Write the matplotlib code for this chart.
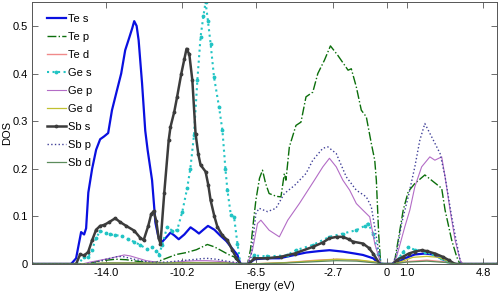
# Partial density of states for Te, Ge and Sb orbitals.

import matplotlib
matplotlib.use('Agg')
import matplotlib.pyplot as plt
from matplotlib import rcParams

rcParams['font.family'] = ['Liberation Sans Narrow', 'Liberation Sans', 'DejaVu Sans']
rcParams['font.size'] = 8

# energies (eV) and DOS values
te_s_e = [-17.7, -15.75, -15.5, -15.25, -15.1, -15.0, -14.89, -14.7, -14.5, -14.3, -14.1, -13.9,
          -13.71, -13.46, -13.25, -13.05, -12.85, -12.7, -12.6, -12.48, -12.38, -12.21, -12.05,
          -11.93, -11.71, -11.54, -11.4, -11.24, -11.0, -10.79, -10.6, -10.38, -10.1, -9.79,
          -9.55, -9.37, -9.15, -8.92, -8.6, -8.29, -8.0, -7.78, -7.45, -7.3, -6.9, -6.6, -6.0,
          -5.36, -4.7, -4.03, -3.4, -2.86, -2.19, -1.6, -1.19, -0.68, -0.35, 0.3, 0.6, 0.9,
          1.4, 1.9, 2.3, 2.7, 3.0, 3.4, 5.5]
te_s = [0, 0, 0.012, 0.067, 0.062, 0.075, 0.15, 0.2, 0.24, 0.262, 0.268, 0.275,
        0.323, 0.365, 0.4, 0.449, 0.475, 0.495, 0.51, 0.5, 0.47, 0.38, 0.28,
        0.239, 0.176, 0.086, 0.058, 0.045, 0.056, 0.066, 0.06, 0.052, 0.062, 0.077,
        0.07, 0.064, 0.072, 0.080, 0.072, 0.059, 0.048, 0.036, 0.019, 0, 0, 0.01, 0.012,
        0.012, 0.018, 0.024, 0.027, 0.029, 0.026, 0.022, 0.019, 0.012, 0, 0, 0.005, 0.012,
        0.02, 0.022, 0.02, 0.012, 0.005, 0, 0]

te_p_e = [-17.7, -15.0, -14.5, -14.0, -13.5, -13.0, -12.5, -12.0, -11.5, -11.0, -10.5, -10.0,
          -9.5, -8.95, -8.6, -8.29, -7.9, -7.62, -7.3, -6.95, -6.8, -6.65, -6.53, -6.35, -6.2,
          -6.05, -5.87, -5.5, -5.28, -5.11, -5.03, -4.86, -4.53, -4.28, -4.03, -3.69, -3.44,
          -3.11, -2.81, -2.44, -1.93, -1.77, -1.52, -1.27, -1.02, -0.77, -0.6, -0.52, -0.4,
          -0.3, 0.3, 0.4, 0.57, 0.82, 1.07, 1.4, 1.9, 2.32, 2.74, 2.91, 3.24, 3.49, 3.65, 5.5]
te_p = [0, 0, 0.005, 0.008, 0.01, 0.009, 0.006, 0.004, 0.004, 0.012, 0.02, 0.024,
        0.03, 0.041, 0.036, 0.029, 0.02, 0.015, 0, 0, 0.03, 0.09, 0.134, 0.18, 0.197,
        0.17, 0.148, 0.142, 0.141, 0.19, 0.176, 0.246, 0.291, 0.298, 0.351, 0.361, 0.40,
        0.428, 0.458, 0.438, 0.407, 0.41, 0.372, 0.323, 0.309, 0.253, 0.218, 0.176, 0.06,
        0, 0, 0.008, 0.05, 0.113, 0.152, 0.169, 0.187, 0.173, 0.159, 0.113, 0.05, 0.015, 0, 0]

te_d_e = [-17.7, -15.0, -14.0, -12.0, -10.0, -8.0, -7.3, -6.9, -5.0, -3.5, -2.5, -1.5, -0.5,
          -0.3, 0.3, 1.0, 2.0, 3.0, 3.5, 5.5]
te_d = [0, 0, 0.002, 0.002, 0.003, 0.003, 0, 0, 0.003, 0.008, 0.01, 0.008, 0.003,
        0, 0, 0.005, 0.008, 0.004, 0, 0]

ge_s_e = [-17.7, -15.4, -15.1, -14.9, -14.7, -14.5, -14.3, -14.0, -13.8, -13.55, -13.2, -12.9,
          -12.63, -12.3, -11.96, -11.7, -11.5, -11.38, -11.2, -10.96, -10.7, -10.46, -10.2,
          -9.96, -9.8, -9.62, -9.45, -9.29, -9.15, -9.04, -8.92, -8.79, -8.62, -8.37, -8.2,
          -8.05, -7.95, -7.78, -7.62, -7.45, -7.3, -6.9, -6.6, -6.0, -5.0, -4.53, -3.69,
          -2.86, -2.19, -1.52, -1.1, -0.93, -0.68, -0.43, -0.25, 0.3, 0.6, 0.8, 1.07, 1.4,
          1.9, 2.3, 2.7, 3.0, 3.3, 5.5]
ge_s = [0, 0, 0.015, 0.015, 0.03, 0.055, 0.069, 0.065, 0.062, 0.061, 0.058, 0.052,
        0.047, 0.04, 0.031, 0.035, 0.028, 0.019, 0.04, 0.078, 0.07, 0.071, 0.11,
        0.159, 0.2, 0.27, 0.386, 0.477, 0.52, 0.55, 0.51, 0.463, 0.393, 0.33, 0.281,
        0.2, 0.155, 0.103, 0.099, 0.043, 0, 0, 0.018, 0.016, 0.018, 0.029, 0.04,
        0.057, 0.064, 0.071, 0.08, 0.085, 0.064, 0.022, 0, 0, 0.012, 0.025, 0.035, 0.03,
        0.026, 0.02, 0.012, 0.006, 0, 0]

ge_p_e = [-17.7, -15.2, -14.8, -14.3, -13.8, -13.3, -13.1, -12.8, -12.4, -12.0, -11.5, -11.0,
          -10.5, -10.0, -9.5, -9.0, -8.5, -8.0, -7.5, -7.3, -6.95, -6.7, -6.45, -6.28, -5.87,
          -5.36, -4.94, -4.36, -3.61, -3.19, -2.86, -2.52, -2.19, -1.85, -1.52, -1.19, -0.85,
          -0.6, -0.3, 0.3, 0.49, 0.9, 1.15, 1.4, 1.74, 2.15, 2.4, 2.74, 2.91, 3.16, 3.41,
          3.66, 3.8, 5.5]
ge_p = [0, 0, 0.004, 0.008, 0.012, 0.017, 0.019, 0.017, 0.012, 0.007, 0.004, 0.003,
        0.004, 0.006, 0.007, 0.007, 0.006, 0.004, 0.002, 0, 0, 0.029, 0.085, 0.092, 0.071,
        0.057, 0.092, 0.127, 0.176, 0.204, 0.222, 0.204, 0.176, 0.155, 0.127, 0.113, 0.099,
        0.043, 0, 0, 0.015, 0.078, 0.113, 0.162, 0.204, 0.225, 0.218, 0.225, 0.183, 0.113,
        0.05, 0.008, 0, 0]

ge_d_e = [-17.7, -15.0, -14.0, -12.0, -10.0, -8.0, -7.3, -6.9, -5.0, -3.5, -2.5, -1.5, -0.5,
          -0.3, 0.3, 0.8, 1.3, 2.0, 2.6, 3.1, 3.5, 5.5]
ge_d = [0, 0, 0.002, 0.002, 0.003, 0.002, 0, 0, 0.003, 0.007, 0.01, 0.009, 0.004,
        0, 0, 0.006, 0.014, 0.016, 0.014, 0.005, 0, 0]

sb_s_e = [-17.7, -15.5, -15.3, -15.1, -14.9, -14.7, -14.5, -14.3, -14.1, -13.85, -13.55, -13.3,
          -13.0, -12.6, -12.3, -12.13, -11.9, -11.75, -11.63, -11.5, -11.38, -11.29, -11.1,
          -10.88, -10.79, -10.6, -10.46, -10.25, -10.1, -9.99, -9.85, -9.7, -9.54, -9.4, -9.29,
          -9.04, -8.9, -8.79, -8.6, -8.45, -8.2, -7.95, -7.7, -7.5, -7.3, -6.9, -6.6, -6.0,
          -5.3, -4.6, -3.69, -3.2, -2.86, -2.5, -2.19, -1.9, -1.69, -1.19, -0.9, -0.68, -0.35,
          0.3, 0.5, 0.8, 1.1, 1.4, 1.74, 2.0, 2.4, 2.8, 3.1, 3.4, 5.5]
sb_s = [0, 0, 0.02, 0.018, 0.025, 0.05, 0.072, 0.08, 0.082, 0.088, 0.096, 0.088,
        0.08, 0.07, 0.055, 0.05, 0.08, 0.105, 0.111, 0.09, 0.054, 0.043, 0.15,
        0.26, 0.288, 0.32, 0.351, 0.4, 0.43, 0.452, 0.44, 0.386, 0.274, 0.23, 0.208,
        0.194, 0.165, 0.134, 0.1, 0.078, 0.06, 0.05, 0.029, 0.012, 0, 0, 0.012, 0.012,
        0.015, 0.022, 0.036, 0.045, 0.054, 0.057, 0.057, 0.052, 0.047, 0.043, 0.034, 0.022, 0,
        0, 0.008, 0.015, 0.022, 0.026, 0.029, 0.027, 0.022, 0.015, 0.008, 0, 0]

sb_p_e = [-17.7, -15.0, -14.5, -14.0, -13.5, -13.2, -12.8, -12.4, -12.0, -11.5, -11.0, -10.5,
          -10.0, -9.5, -9.0, -8.5, -8.0, -7.5, -7.3, -6.95, -6.78, -6.53, -6.37, -5.95, -5.53,
          -5.11, -4.6, -4.03, -3.69, -3.19, -2.94, -2.52, -2.02, -1.52, -1.02, -0.77, -0.52,
          -0.3, 0.3, 0.49, 0.74, 1.07, 1.4, 1.65, 1.9, 2.24, 2.66, 2.91, 3.24, 3.49, 3.7, 5.5]
sb_p = [0, 0, 0.004, 0.01, 0.015, 0.016, 0.012, 0.008, 0.005, 0.003, 0.004, 0.006,
        0.008, 0.01, 0.012, 0.01, 0.006, 0.003, 0, 0, 0.012, 0.106, 0.117, 0.11, 0.117,
        0.148, 0.165, 0.19, 0.218, 0.243, 0.246, 0.232, 0.183, 0.155, 0.141, 0.12, 0.057,
        0, 0, 0.022, 0.085, 0.141, 0.204, 0.26, 0.295, 0.267, 0.232, 0.183, 0.099, 0.043, 0, 0]

sb_d_e = [-17.7, -15.0, -14.0, -12.0, -10.0, -8.0, -7.3, -6.9, -5.0, -3.5, -2.5, -1.5, -0.5,
          -0.3, 0.3, 1.0, 2.0, 3.0, 3.5, 5.5]
sb_d = [0, 0, 0.002, 0.002, 0.002, 0.002, 0, 0, 0.002, 0.005, 0.007, 0.006, 0.002,
        0, 0, 0.004, 0.006, 0.003, 0, 0]

xticks = [-14.0, -10.2, -6.5, -2.7, 0, 1.0, 4.8]
xticklabels = ['-14.0', '-10.2', '-6.5', '-2.7', '0', '1.0', '4.8']
yticks = [0, 0.1, 0.2, 0.3, 0.4, 0.5]
yticklabels = ['0', '0.1', '0.2', '0.3', '0.4', '0.5']

fig = plt.figure(figsize=(5, 3), dpi=100)
ax = fig.add_axes([0.064, 0.12, 0.93, 0.873])

ax.plot(te_s_e, te_s, '-', color='#0a10e0', lw=1.6, label='Te s')
ax.plot(te_p_e, te_p, '-.', color='#0b6e0b', lw=1.0, label='Te p')
ax.plot(te_d_e, te_d, '-', color='#f08a8a', lw=1.0, label='Te d')
ax.plot(ge_s_e, ge_s, ':', color='#22c4c4', lw=1.5, marker='.', ms=3.5, label='Ge s')
ax.plot(ge_p_e, ge_p, '-', color='#b36cc6', lw=0.8, label='Ge p')
ax.plot(ge_d_e, ge_d, '-', color='#c0c030', lw=0.9, label='Ge d')
ax.plot(sb_s_e, sb_s, '-', color='#3c3c3c', lw=1.8, marker='.', ms=3.5, label='Sb s')
ax.plot(sb_p_e, sb_p, ':', color='#404098', lw=1.0, label='Sb p')
ax.plot(sb_d_e, sb_d, '-', color='#5c8c5c', lw=0.9, label='Sb d')

ax.set_xlim(-17.7, 5.5)
ax.set_ylim(0, 0.55)
ax.set_xticks(xticks)
ax.set_xticklabels(xticklabels)
ax.set_yticks(yticks)
ax.set_yticklabels(yticklabels)
ax.tick_params(direction='in', top=True, right=True, length=4, width=0.6,
               color='#555555', labelsize=8, pad=3)
for sp in ax.spines.values():
    sp.set_color('#555555')
    sp.set_linewidth(0.7)

ax.set_xlabel('Energy (eV)', fontsize=8, labelpad=2)
ax.set_ylabel('DOS', fontsize=8)
ax.yaxis.set_label_coords(-0.043, 0.5)

ax.legend(loc='upper left', bbox_to_anchor=(0.015, 0.985), frameon=False, fontsize=8,
          handlelength=1.7, handletextpad=0.25, labelspacing=0.72, borderaxespad=0.3)

plt.savefig('out.png', dpi=100)
